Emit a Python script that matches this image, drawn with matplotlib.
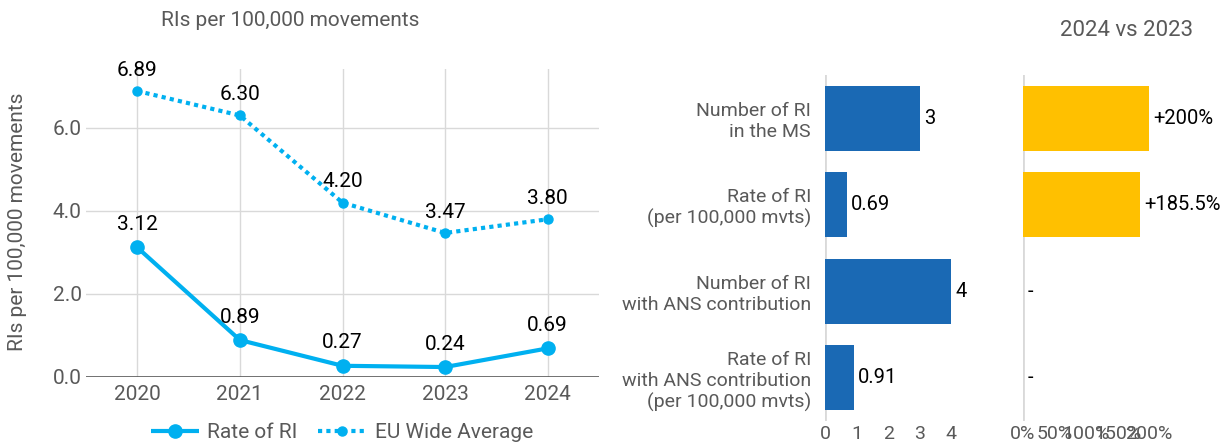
import matplotlib
matplotlib.use("Agg")
import matplotlib.pyplot as plt
from matplotlib.ticker import FuncFormatter

plt.rcParams['font.family'] = ['Roboto', 'DejaVu Sans']

years = ["2020", "2021", "2022", "2023", "2024"]
rate_ri = [3.12, 0.89, 0.27, 0.24, 0.69]
eu_avg = [6.89, 6.30, 4.20, 3.47, 3.80]

categories = ["Number of RI\nin the MS", "Rate of RI\n(per 100,000 mvts)",
              "Number of RI\nwith ANS contribution",
              "Rate of RI\nwith ANS contribution\n(per 100,000 mvts)"]
values = [3, 0.69, 4, 0.91]
value_labels = ["3", "0.69", "4", "0.91"]
change = [2.00, 1.855, None, None]
change_labels = ["+200%", "+185.5%", "-", "-"]

W, H = 1226, 446
fig = plt.figure(figsize=(W / 100, H / 100), dpi=100)

def px_axes(x0, y0, x1, y1):
    return fig.add_axes([x0 / W, 1 - y1 / H, (x1 - x0) / W, (y1 - y0) / H])

GRAY = "#595959"
LINE = "#00B0F0"
BLUE = "#1A69B4"
YEL = "#FFC000"

# ---- left line chart ----
ax = px_axes(86, 69, 599, 377)
x = list(range(len(years)))
ax.set_xlim(-0.5, 4.5)
ax.set_ylim(0, 7.42)
for xi in x:
    ax.axvline(xi, color="#d9d9d9", lw=1, zorder=0)
for yv in [2, 4, 6]:
    ax.axhline(yv, color="#d9d9d9", lw=1, zorder=0)
ax.axhline(0, color=GRAY, lw=1.2, zorder=1)
l1, = ax.plot(x, rate_ri, color=LINE, lw=3, marker="o", ms=9.5, label="Rate of RI",
              solid_capstyle="butt", zorder=3)
l2, = ax.plot(x, eu_avg, color=LINE, lw=3, ls=(0, (1, 1)), marker="o", ms=6.5,
              label="EU Wide Average", zorder=3)
for xi, v in zip(x, rate_ri):
    ax.annotate(f"{v:.2f}", (xi, v), xytext=(0, 16.5), textcoords="offset points",
                ha="center", va="center", fontsize=15, color="black")
for xi, v in zip(x, eu_avg):
    ax.annotate(f"{v:.2f}", (xi, v), xytext=(0, 15), textcoords="offset points",
                ha="center", va="center", fontsize=15, color="black")
ax.set_xticks(x)
ax.set_xticklabels(years)
ax.set_yticks([0, 2, 4, 6])
ax.set_yticklabels(["0.0", "2.0", "4.0", "6.0"])
ax.tick_params(axis="both", length=0, labelsize=15, labelcolor=GRAY)
ax.tick_params(axis="x", pad=6)
ax.tick_params(axis="y", pad=3)
for s in ax.spines.values():
    s.set_visible(False)
fig.text(18 / W, 1 - 222 / H, "RIs per 100,000 movements", rotation=90, ha="center",
         va="center", fontsize=15, color=GRAY)
fig.text(290 / W, 1 - 20 / H, "RIs per 100,000 movements", ha="center", va="center",
         fontsize=15, color=GRAY)
fig.legend(handles=[l1, l2], loc="center", bbox_to_anchor=(342 / W, 1 - 433 / H), ncol=2,
           frameon=False, fontsize=15, labelcolor=GRAY, handlelength=2.3,
           columnspacing=1.0, handletextpad=0.4)

# ---- bar panel 1 ----
rows = list(range(len(categories)))
bx = px_axes(825, 75, 825 + 4.6 * 31.6, 421)
bx.barh(rows, values, height=0.75, color=BLUE, zorder=2)
bx.set_xlim(0, 4.6)
bx.set_ylim(3.5, -0.5)
for r, v, t in zip(rows, values, value_labels):
    bx.annotate(t, (v, r), xytext=(3, 0), textcoords="offset points", ha="left",
                va="center", fontsize=14.5, color="black")
bx.set_yticks(rows)
bx.set_yticklabels(categories, ha="right", multialignment="right", linespacing=1.2)
bx.set_xticks([0, 1, 2, 3, 4])
bx.tick_params(axis="both", length=0, labelsize=14, labelcolor=GRAY)
bx.tick_params(axis="y", pad=10)
bx.tick_params(axis="x", pad=3)
for s in bx.spines.values():
    s.set_visible(False)
bx.axvline(0, color="#d9d9d9", lw=2, zorder=1)

# ---- bar panel 2 ----
cx = px_axes(1023, 75, 1023 + 3.0 * 63, 421)
cvals = [c if c is not None else 0 for c in change]
cx.barh(rows, cvals, height=0.75, color=YEL, zorder=2)
cx.set_xlim(0, 3.0)
cx.set_ylim(3.5, -0.5)
for r, v, t in zip(rows, cvals, change_labels):
    cx.annotate(t, (v, r), xytext=(3, 0), textcoords="offset points", ha="left",
                va="center", fontsize=14.5, color="black")
cx.set_yticks([])
cx.set_xticks([0, 0.5, 1.0, 1.5, 2.0])
cx.xaxis.set_major_formatter(FuncFormatter(lambda v, p: f"{v*100:.0f}%"))
cx.tick_params(axis="both", length=0, labelsize=14, labelcolor=GRAY)
cx.tick_params(axis="x", pad=3)
for s in cx.spines.values():
    s.set_visible(False)
cx.axvline(0, color="#d9d9d9", lw=2, zorder=1)
fig.text(1127 / W, 1 - 30 / H, "2024 vs 2023", ha="center", va="center", fontsize=16,
         color=GRAY)

fig.savefig("out.png", dpi=100)
